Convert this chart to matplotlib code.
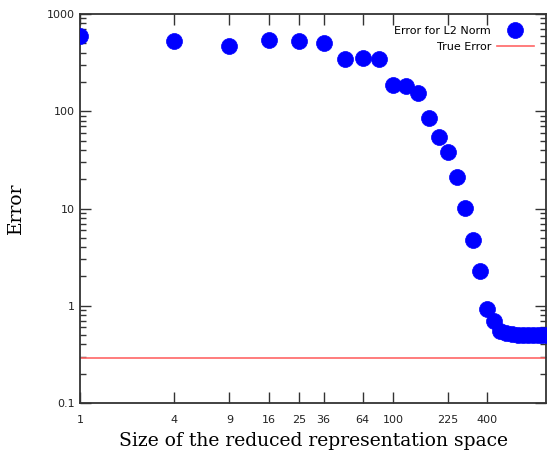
import matplotlib
matplotlib.use("Agg")
import matplotlib.pyplot as plt
from matplotlib.ticker import FixedLocator, LogLocator, NullFormatter, NullLocator

# size of the reduced space (squares) and the measured error
sizes = [1, 4, 9, 16, 25, 36, 49, 64, 81, 100, 121, 144, 169, 196, 225, 256,
         289, 324, 361, 400, 441, 484, 529, 576, 625, 676, 729, 784, 841, 900, 961]
err_l2 = [594, 527, 469, 541, 527, 503, 344, 353, 344, 186, 182, 154, 85, 54, 38, 21,
          10.1, 4.8, 2.28, 0.93, 0.70, 0.55, 0.52, 0.51, 0.50, 0.50, 0.50, 0.50, 0.50, 0.50, 0.50]
true_err = 0.292

xtick_vals = [1, 4, 9, 16, 25, 36, 64, 100, 225, 400]
ytick_vals = [0.1, 1, 10, 100, 1000]
ytick_labels = ["0.1", "1", "10", "100", "1000"]

fig = plt.figure(figsize=(5.5, 4.53), dpi=100)
ax = fig.add_axes([0.1455, 0.1104, 0.8472, 0.8586])

ax.plot(sizes, err_l2, "o", color="#0000ff", ms=11.5, mec="#0000ff", mew=0.5,
        label="Error for L2 Norm", zorder=3)
ax.axhline(true_err, color="#ff6666", lw=1.2, label="True Error", zorder=2)

ax.set_xscale("log")
ax.set_yscale("log")
ax.set_xlim(1, 948)
ax.set_ylim(0.1, 1000)

ax.xaxis.set_major_locator(FixedLocator(xtick_vals))
ax.xaxis.set_minor_locator(NullLocator())
ax.set_xticklabels([str(v) for v in xtick_vals])
ax.yaxis.set_major_locator(FixedLocator(ytick_vals))
ax.set_yticklabels(ytick_labels)
ax.yaxis.set_minor_locator(LogLocator(base=10, subs=range(2, 10)))
ax.yaxis.set_minor_formatter(NullFormatter())

ax.tick_params(which="both", direction="in", top=True, right=True,
               colors="#333333", labelcolor="#222222", labelsize=8)
ax.tick_params(which="major", length=8, width=1)
ax.tick_params(which="minor", length=4, width=1)
ax.tick_params(axis="x", pad=9)
for s in ax.spines.values():
    s.set_color("#333333")
    s.set_linewidth(1.3)

ax.set_xlabel("Size of the reduced representation space", family="DejaVu Serif",
              fontsize=13.5, labelpad=5)
ax.set_ylabel("Error", family="DejaVu Serif", fontsize=13.5, labelpad=16)

ax.legend(loc="upper right", frameon=False, markerfirst=False, fontsize=8,
          handlelength=3.4, borderaxespad=0.65, labelspacing=0.6, handletextpad=0.5)

fig.savefig("out.png", dpi=100)
